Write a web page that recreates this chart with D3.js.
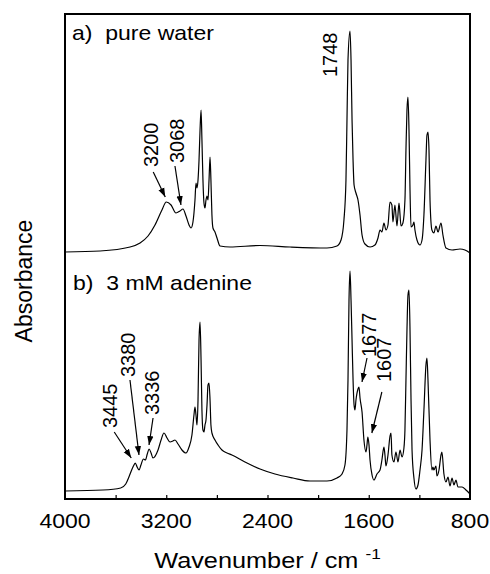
<!DOCTYPE html>
<html><head><meta charset="utf-8">
<script src="https://cdn.jsdelivr.net/npm/d3@7"></script>
<style>body{margin:0;background:#fff} text{font-family:"Liberation Sans",Arial,Helvetica,sans-serif;fill:#000}</style>
</head><body><svg id="c" width="490" height="574"></svg>
<script>
// ---- data: [wavenumber (cm-1), absorbance (arb. units)] ----
const spectrumA = [[4000,0],[3723,0.005],[3486,0.025],[3407,0.045],[3344,0.08],[3289,0.135],[3234,0.21],[3200,0.25],[3162,0.235],[3123,0.195],[3091,0.205],[3068,0.215],[3044,0.18],[3020,0.135],[3004,0.12],[2989,0.15],[2973,0.26],[2965,0.345],[2957,0.32],[2949,0.36],[2941,0.46],[2933,0.61],[2925,0.71],[2918,0.56],[2910,0.36],[2902,0.245],[2894,0.22],[2886,0.26],[2878,0.28],[2870,0.26],[2862,0.36],[2854,0.475],[2847,0.36],[2839,0.185],[2831,0.12],[2815,0.10],[2799,0.07],[2775,0.03],[2696,0.025],[2459,0.0325],[2222,0.025],[1930,0.02],[1851,0.03],[1819,0.06],[1796,0.16],[1780,0.36],[1772,0.66],[1764,0.96],[1748,1.105],[1740,0.96],[1732,0.66],[1724,0.46],[1716,0.335],[1701,0.295],[1685,0.26],[1669,0.185],[1653,0.085],[1630,0.04],[1590,0.025],[1551,0.035],[1527,0.07],[1511,0.11],[1496,0.10],[1480,0.145],[1464,0.11],[1448,0.135],[1432,0.25],[1417,0.235],[1409,0.15],[1393,0.235],[1377,0.13],[1361,0.245],[1345,0.13],[1330,0.145],[1314,0.26],[1306,0.51],[1298,0.71],[1290,0.775],[1282,0.61],[1274,0.31],[1266,0.125],[1251,0.135],[1243,0.15],[1235,0.11],[1219,0.06],[1195,0.035],[1179,0.06],[1164,0.185],[1148,0.46],[1140,0.585],[1132,0.60],[1124,0.51],[1116,0.26],[1101,0.11],[1085,0.095],[1069,0.13],[1053,0.10],[1029,0.145],[1014,0.085],[990,0.02],[942,0.01],[879,0.015],[840,0.01],[800,-0.005]];

const spectrumB = [[4000,0],[3700,0.005],[3560,0.015],[3520,0.035],[3495,0.07],[3470,0.11],[3455,0.13],[3445,0.14],[3430,0.12],[3415,0.105],[3400,0.13],[3380,0.16],[3365,0.155],[3350,0.185],[3336,0.21],[3320,0.19],[3305,0.165],[3265,0.205],[3241,0.255],[3218,0.29],[3194,0.265],[3170,0.245],[3147,0.25],[3131,0.255],[3107,0.235],[3076,0.205],[3044,0.19],[3020,0.22],[2997,0.28],[2981,0.38],[2973,0.42],[2965,0.38],[2957,0.33],[2949,0.455],[2941,0.755],[2933,0.845],[2925,0.655],[2918,0.405],[2910,0.305],[2902,0.295],[2894,0.33],[2886,0.355],[2878,0.43],[2870,0.53],[2862,0.54],[2854,0.455],[2847,0.33],[2839,0.29],[2815,0.255],[2791,0.23],[2760,0.205],[2720,0.19],[2681,0.18],[2578,0.145],[2459,0.11],[2341,0.085],[2199,0.065],[2064,0.05],[1930,0.05],[1851,0.065],[1811,0.085],[1788,0.13],[1772,0.305],[1764,0.555],[1756,0.955],[1748,1.10],[1740,0.955],[1732,0.755],[1724,0.555],[1716,0.43],[1709,0.405],[1701,0.455],[1685,0.51],[1677,0.52],[1669,0.465],[1653,0.395],[1638,0.255],[1622,0.195],[1614,0.23],[1607,0.27],[1598,0.23],[1590,0.155],[1574,0.08],[1559,0.055],[1535,0.085],[1511,0.105],[1496,0.155],[1480,0.22],[1472,0.18],[1464,0.125],[1448,0.18],[1432,0.275],[1424,0.29],[1417,0.18],[1401,0.145],[1385,0.195],[1369,0.145],[1353,0.205],[1337,0.17],[1322,0.215],[1314,0.305],[1306,0.555],[1298,0.805],[1290,0.98],[1282,1.005],[1274,0.805],[1266,0.455],[1258,0.205],[1243,0.065],[1227,0.01],[1211,0.03],[1195,0.105],[1179,0.205],[1164,0.405],[1148,0.63],[1140,0.665],[1132,0.555],[1116,0.255],[1101,0.105],[1093,0.12],[1085,0.105],[1069,0.125],[1061,0.075],[1045,0.105],[1029,0.18],[1022,0.195],[1006,0.085],[990,0.045],[974,0.07],[958,0.025],[942,0.065],[927,0.03],[911,0.055],[895,0.02],[863,0.02],[832,0.005],[800,-0.015]];

const tickLabels = [4000, 3200, 2400, 1600, 800];
const tickMarks = [3600, 3200, 2800, 2400, 2000, 1600, 1200];
const panelLabels = ["a)  pure water", "b)  3 mM adenine"];
const peaksA = ["3200", "3068", "1748"];
const peaksB = ["3445", "3380", "3336", "1677", "1607"];
const xTitle = "Wavenumber / cm";
const xTitleSup = "-1";
const yTitle = "Absorbance";

// ---- layout (pixel offsets of label/arrow relative to the peak point) ----
const layoutA = {
  "3200": {tip:[-1,-5], tail:[-13,-30], lab:[-15,-35]},
  "3068": {tip:[-2,-4], tail:[-8,-43], lab:[-6,-46]},
  "1748": {tip:null, tail:null, lab:[-20,46]}
};
const layoutB = {
  "3445": {tip:[-4,-5], tail:[-21,-31], lab:[-25,-35]},
  "3380": {tip:[-4.5,-4], tail:[-13.5,-79], lab:[-15.5,-82]},
  "3336": {tip:[0,-4], tail:[4,-31], lab:[3,-34]},
  "1677": {tip:[3,-5], tail:[8,-29], lab:[10,-30]},
  "1607": {tip:[4,-4], tail:[14,-45], lab:[16,-55]}
};

const svg = d3.select("#c");
const L = 65, R = 470, T = 14, B = 499;
const x = d3.scaleLinear().domain([4000, 800]).range([L, R]);
const yA = d3.scaleLinear().domain([0, 1]).range([252, 52]);
const yB = d3.scaleLinear().domain([0, 1]).range([491, 291]);
const SX = 1.15; // horizontal stretch of the scanned lettering

svg.append("defs").append("marker")
  .attr("id", "ah").attr("viewBox", "0 0 10 10").attr("refX", 10).attr("refY", 5)
  .attr("markerWidth", 9).attr("markerHeight", 9).attr("markerUnits", "userSpaceOnUse")
  .attr("orient", "auto")
  .append("path").attr("d", "M0,1.5 L10,5 L0,8.5 Z").attr("fill", "#000");

// frame
svg.append("rect").attr("x", L).attr("y", T).attr("width", R - L).attr("height", B - T)
  .attr("fill", "none").attr("stroke", "#000").attr("stroke-width", 2);

// bottom axis ticks (inward)
const axis = d3.axisBottom(x).tickValues(tickMarks).tickSize(-4).tickFormat("");
const ag = svg.append("g").attr("transform", `translate(0,${B})`).call(axis);
ag.select(".domain").remove();
ag.selectAll("line").attr("stroke", "#000").attr("stroke-width", 1.2);

// tick labels
svg.selectAll(".tl").data(tickLabels).join("text").attr("class", "tl")
  .attr("transform", d => `translate(${x(d)},528) scale(${SX},1)`)
  .attr("text-anchor", "middle").attr("font-size", 20).text(d => d);

// curves
const line = ys => d3.line().x(d => x(d[0])).y(d => ys(d[1])).curve(d3.curveMonotoneX);
svg.append("path").datum(spectrumA).attr("d", line(yA))
  .attr("fill", "none").attr("stroke", "#000").attr("stroke-width", 1.2).attr("stroke-linejoin", "round");
svg.append("path").datum(spectrumB).attr("d", line(yB))
  .attr("fill", "none").attr("stroke", "#000").attr("stroke-width", 1.2).attr("stroke-linejoin", "round");

// panel labels
svg.append("text").attr("transform", `translate(72,40) scale(${SX},1)`).attr("font-size", 20)
  .attr("xml:space", "preserve").style("white-space", "pre").text(panelLabels[0]);
svg.append("text").attr("transform", `translate(73,290) scale(${SX},1)`).attr("font-size", 20)
  .attr("xml:space", "preserve").style("white-space", "pre").text(panelLabels[1]);

// annotations
function annotate(peaks, spec, ys, layout) {
  peaks.forEach(p => {
    const wn = +p;
    const pt = spec.reduce((a, b) => Math.abs(b[0] - wn) < Math.abs(a[0] - wn) ? b : a);
    const px = x(wn), py = ys(pt[1]);
    const lo = layout[p];
    if (lo.tip) {
      svg.append("line")
        .attr("x1", px + lo.tail[0]).attr("y1", py + lo.tail[1])
        .attr("x2", px + lo.tip[0]).attr("y2", py + lo.tip[1])
        .attr("stroke", "#000").attr("stroke-width", 1.2).attr("marker-end", "url(#ah)");
    }
    svg.append("text")
      .attr("transform", `translate(${px + lo.lab[0]},${py + lo.lab[1]}) rotate(-90)`)
      .attr("dy", "0.36em").attr("font-size", 20).attr("text-anchor", "start").text(p);
  });
}
annotate(peaksA, spectrumA, yA, layoutA);
annotate(peaksB, spectrumB, yB, layoutB);

// axis titles
const xt = svg.append("text").attr("transform", `translate(${(L + R) / 2},568) scale(${SX},1)`)
  .attr("text-anchor", "middle").attr("font-size", 22);
xt.append("tspan").text(xTitle + " ");
xt.append("tspan").attr("font-size", 15).attr("dy", -9).text(xTitleSup);

svg.append("text").attr("transform", "translate(24,281) rotate(-90)")
  .attr("text-anchor", "middle").attr("dy", "0.36em").attr("font-size", 23).text(yTitle);
</script></body></html>
